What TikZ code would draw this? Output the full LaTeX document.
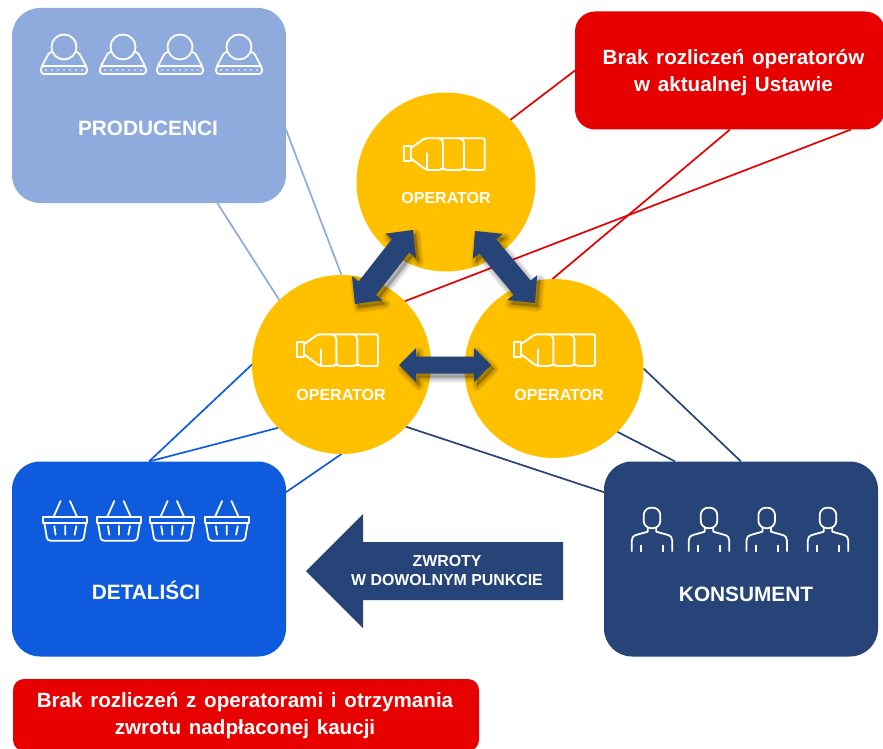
\documentclass[tikz,border=0pt]{standalone}
\usepackage{fontspec}
\setmainfont{Liberation Sans}
\newfontfamily\redfont[WordSpace=1.35]{Liberation Sans}
\usetikzlibrary{calc,backgrounds}
\definecolor{goldc}{HTML}{FFC000}
\definecolor{navyc}{HTML}{264478}
\definecolor{bluec}{HTML}{0F5BDD}
\definecolor{lightc}{HTML}{8FAADC}
\definecolor{redc}{HTML}{E60000}
\newcommand{\dblshape}[5]{(#1)
 -- ($(#1)!#3pt!(#2)!#4pt!90:(#2)$) -- ($(#1)!#3pt!(#2)!#5pt!90:(#2)$)
 -- ($(#2)!#3pt!(#1)!#5pt!-90:(#1)$) -- ($(#2)!#3pt!(#1)!#4pt!-90:(#1)$)
 -- (#2)
 -- ($(#2)!#3pt!(#1)!#4pt!90:(#1)$) -- ($(#2)!#3pt!(#1)!#5pt!90:(#1)$)
 -- ($(#1)!#3pt!(#2)!#5pt!-90:(#2)$) -- ($(#1)!#3pt!(#2)!#4pt!-90:(#2)$) -- cycle}
\newcommand{\dblarrow}[5]{%
 \foreach \lw in {10,8,6,4,2}{
  \path[transform canvas={shift={(3pt,-4pt)}},fill=black,draw=black,fill opacity=.05,draw opacity=.05,line width=\lw pt,line join=round] \dblshape{#1}{#2}{#3}{#4}{#5};
 }
 \fill[navyc] \dblshape{#1}{#2}{#3}{#4}{#5};}
\tikzset{
 x=1pt,y=-1pt,
 box/.style={rectangle,rounded corners=28pt,minimum width=274pt,minimum height=195pt,inner sep=0pt,outer sep=0pt},
 redbox/.style={rectangle,fill=redc,inner sep=0pt,outer sep=0pt},
 opcircle/.style={circle,fill=goldc,minimum size=179pt,inner sep=0pt,outer sep=0pt},
 boxlabel/.style={text=white,font=\fontsize{20.8}{24}\selectfont\bfseries},
 oplabel/.style={text=white,font=\fontsize{16}{18}\selectfont\bfseries},
 redlabel/.style={text=white,align=center,font=\redfont\fontsize{20.6}{27}\selectfont\bfseries},
 arrowlabel/.style={text=white,align=center,font=\fontsize{15.9}{19}\selectfont\bfseries},
 link/.style={line width=1.7pt},
 icon/.style={draw=white,line width=1.8pt,line join=round,line cap=round,fill=none},
 pics/iconprod/.style={code={
  \draw[icon] (0,0) circle (12.5);
  \draw[icon,rounded corners=2pt] (-12,5) -- (-14.5,5) -- (-22,19);
  \draw[icon,rounded corners=2pt] (12,5) -- (14.5,5) -- (22,19);
  \draw[icon,rounded corners=3pt] (-23,19) rectangle (23,27);
  \foreach \d in {-18,-12,-6,0,6,12,18}{\fill[white] (\d,23) circle (.8);}
 }},
 pics/iconbasket/.style={code={
  \draw[icon] (-22,0) rectangle (22,6);
  \draw[icon,rounded corners=3pt] (-21,6) -- (-18,24) -- (18,24) -- (21,6);
  \draw[icon] (-11.7,0) -- (-4.7,-15.7) (11.7,0) -- (4.7,-15.7);
  \draw[icon] (-11,9.5) -- (-9.7,18) (0,9) -- (0,18) (11,9.5) -- (9.3,18);
 }},
 pics/iconperson/.style={code={
  \draw[icon,rounded corners=7.5pt] (-8.3,0) rectangle (8.3,20.5);
  \draw[icon,line cap=butt] (-4.3,20.5) -- (-4.3,24) -- (-15,27) .. controls (-19,28) and (-20.3,30) .. (-20.3,33) -- (-20.3,44);
  \draw[icon,line cap=butt] (4.3,20.5) -- (4.3,24) -- (15,27) .. controls (19,28) and (20.3,30) .. (20.3,33) -- (20.3,44);
  \draw[icon,line cap=butt,line width=2.4pt] (-11,37) -- (-11,44) (11,37) -- (11,44);
 }},
 pics/iconbottle/.style={code={
  \draw[icon,line width=1.9pt] (-42,-14.3) rectangle (-35.3,.7);
  \draw[icon,line width=1.9pt,rounded corners=2pt] (-35.3,-11.7) -- (-21.3,-21.7) -- (38.7,-21.7) -- (38.7,10) -- (20,10) -- (18,8) -- (16,10) -- (-1,10) -- (-3,8) -- (-5,10) -- (-19.7,10) -- (-35.3,-1.7);
  \draw[icon,line width=1.9pt] (-18.7,-6.7) -- (-18.7,9);
  \draw[icon,line width=1.9pt] (-3,8) -- (-3,-17) .. controls (-3,-19.5) and (-5,-21) .. (-7,-21.7);
  \draw[icon,line width=1.9pt] (18,8) -- (18,-17) .. controls (18,-19.5) and (16,-21) .. (14,-21.7);
 }},
}
\begin{document}
\begin{tikzpicture}
\useasboundingbox (0,0) rectangle (883,749);
% boxes
\node[box,fill=lightc] (prod) at (149,105.5) {};
\node[box,fill=bluec] (det) at (149,559) {};
\node[box,fill=navyc] (kons) at (741,559) {};
\node[redbox,rounded corners=20pt,minimum width=310pt,minimum height=118pt] (redtop) at (730,70.5) {};
\node[redbox,rounded corners=11pt,minimum width=466pt,minimum height=72pt] (redbot) at (246,715) {};
% circles
\node[opcircle] (opT) at (446,182) {};
\node[opcircle] (opL) at (341.5,364.5) {};
\node[opcircle] (opR) at (554,368.5) {};
% connectors
\begin{pgfonlayer}{background}
\draw[link,lightc] (prod.-10) -- (opL.90);
\draw[link,lightc] (prod.-55) -- (opL.134);
\draw[link,redc] (redtop.west) -- (opT.44.6);
\draw[link,redc] (redtop.-90) -- (opR.91);
\draw[link,redc] (redtop.-26.6) -- (opL.45);
\draw[link,bluec] (det.90) -- (opL.180);
\draw[link,bluec] (det.90) -- (opL.-135);
\draw[link,bluec] (det.26.6) -- (opL.-90);
\draw[link,navyc] (kons.154.3) -- (opL.-44);
\draw[link,navyc] (kons.124.6) -- (opR.-45.7);
\draw[link,navyc] (kons.90) -- (opR.0);
\end{pgfonlayer}
% double arrows
\coordinate (a1) at (413,230); \coordinate (a2) at (355,304);
\coordinate (b1) at (475,231); \coordinate (b2) at (535,303);
\coordinate (c1) at (399,365); \coordinate (c2) at (491,365);
\dblarrow{a1}{a2}{20}{19.5}{11}
\dblarrow{b1}{b2}{20}{19.5}{11}
\dblarrow{c1}{c2}{17}{17}{8.5}
% big arrow
\coordinate (zw) at (306,571);
\fill[navyc] (zw) -- (363,514) -- (363,542) -- (563,542) -- (563,600) -- (363,600) -- (363,628) -- cycle;
% labels
\node[boxlabel] (lprod) at (148,128) {PRODUCENCI};
\node[boxlabel] (ldet) at (146,590) {DETALIŚCI};
\node[boxlabel] (lkons) at (746,594) {KONSUMENT};
\node[oplabel] (lopT) at (446,198) {OPERATOR};
\node[oplabel] (lopL) at (341,394.5) {OPERATOR};
\node[oplabel] (lopR) at (559,394.5) {OPERATOR};
\node[arrowlabel] (lzw) at (447,571) {ZWROTY\\W DOWOLNYM PUNKCIE};
\node[redlabel] (lrt) at (733.5,72.5) {Brak rozliczeń operatorów\\w aktualnej Ustawie};
\node[redlabel] (lrb) at (245,715.5) {Brak rozliczeń z operatorami i otrzymania\\zwrotu nadpłaconej kaucji};
% icons
\foreach \x in {64,123,180,239}{\pic at (\x,47) {iconprod};}
\foreach \x in {65.3,119,172.3,226.8}{\pic at (\x,516.7) {iconbasket};}
\foreach \x in {652,709,766.7,828}{\pic at (\x,507.7) {iconperson};}
\pic at (446,160) {iconbottle};
\pic at (339.3,356) {iconbottle};
\pic at (556.3,356) {iconbottle};
\end{tikzpicture}
\end{document}
